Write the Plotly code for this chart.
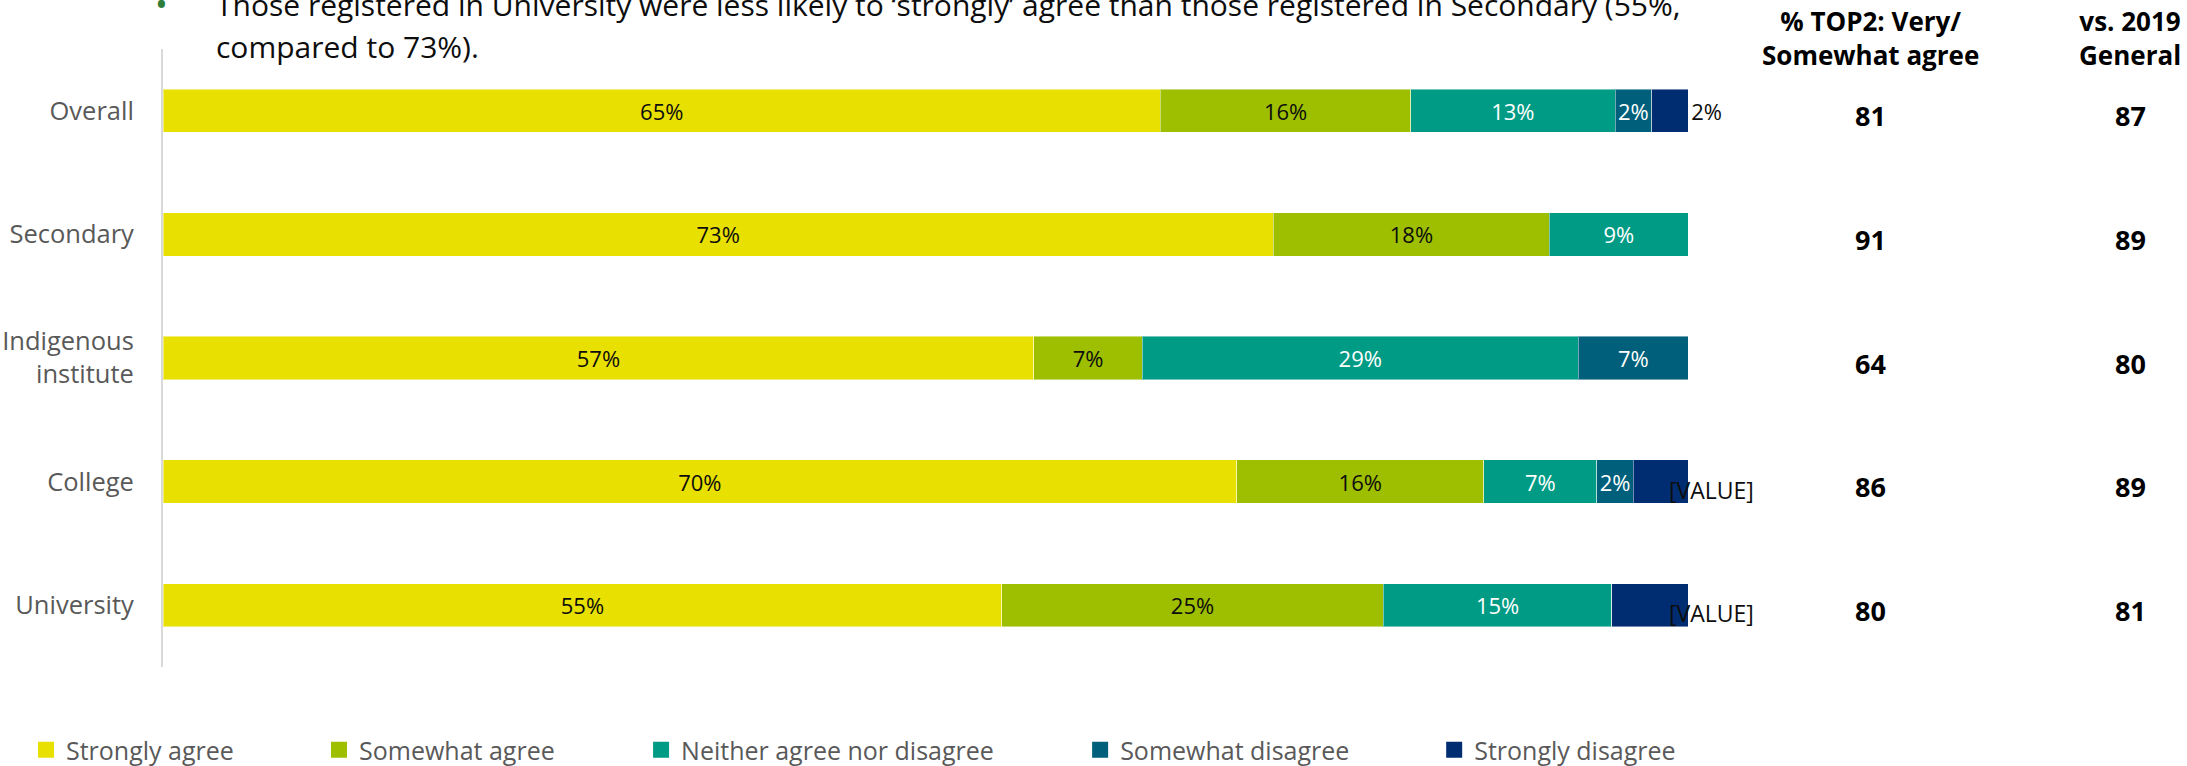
import plotly.graph_objects as go

# Survey groups (top to bottom) and response scale
categories = ["Overall", "Secondary", "Indigenous<br>institute", "College", "University"]
responses = ["Strongly agree", "Somewhat agree", "Neither agree nor disagree",
             "Somewhat disagree", "Strongly disagree"]
colors = ["#E8E000", "#9DBF00", "#009B84", "#005F7A", "#002D72"]
label_colors = ["#0d0d0d", "#0d0d0d", "#FFFFFF", "#FFFFFF", "#0d0d0d"]

# Share of respondents (%) per response, one list per response
strongly_agree = [65.4, 72.8, 57.1, 70.4, 55.0]
somewhat_agree = [16.4, 18.1, 7.1, 16.2, 25.0]
neither = [13.4, 9.1, 28.6, 7.4, 15.0]
somewhat_disagree = [2.4, 0.0, 7.2, 2.4, 0.0]
strongly_disagree = [2.4, 0.0, 0.0, 3.6, 5.0]
strongly_disagree_labels = ["2%", "", "", "[VALUE]", "[VALUE]"]

# Summary columns
top2 = [81, 91, 64, 86, 80]
general_2019 = [87, 89, 80, 89, 81]

series = [strongly_agree, somewhat_agree, neither, somewhat_disagree, strongly_disagree]

FONT = "Open Sans"
W, H = 2187, 766
X_MAX = 115                 # axis range leaves room for labels past 100%
PX_PER_UNIT = 15.25
ML, MT, MB = 163, 49, 99
PW = PX_PER_UNIT * X_MAX
MR = W - ML - PW
PH = H - MT - MB


def px_x(x):
    return (x - ML) / PW


def px_y(y):
    return (H - MB - y) / PH


fig = go.Figure()

for i, (name, vals, col) in enumerate(zip(responses, series, colors)):
    if i == len(series) - 1:
        text = [lab if lab != "[VALUE]" else "" for lab in strongly_disagree_labels]
        pos = "outside"
    else:
        text = [f"{v:.0f}%" if v > 0 else "" for v in vals]
        pos = "inside"
    fig.add_trace(go.Bar(
        y=categories, x=vals, orientation="h", name=name,
        marker=dict(color=col, line=dict(color="rgba(255,255,255,0.45)", width=1)),
        text=text, textposition=pos, insidetextanchor="middle",
        textangle=0, constraintext="none",
        textfont=dict(family=FONT, size=22, color=label_colors[i]),
        outsidetextfont=dict(family=FONT, size=22, color="#0d0d0d"),
        cliponaxis=False, showlegend=False, hoverinfo="skip",
    ))

# Legend entries, each in its own legend box so spacing follows the text
legend_left = [38, 331, 653, 1092, 1446]
legend_layouts = {}
for i, (name, col) in enumerate(zip(responses, colors)):
    key = "legend" if i == 0 else f"legend{i + 1}"
    fig.add_trace(go.Scatter(
        x=[None], y=[None], mode="markers", name=name,
        marker=dict(symbol="square", size=16, color=col),
        legend=key, showlegend=True, hoverinfo="skip",
    ))
    legend_layouts[key] = dict(
        x=px_x(legend_left[i] - 12), xanchor="left",
        y=px_y(750), yanchor="middle", orientation="h",
        font=dict(family=FONT, size=25, color="#595959"),
        bgcolor="rgba(0,0,0,0)", borderwidth=0,
    )

annotations = []

# Placeholder data labels on the last segment
totals = [sum(s[k] for s in series) for k in range(len(categories))]
for cat, lab, tot in zip(categories, strongly_disagree_labels, totals):
    if lab == "[VALUE]":
        annotations.append(dict(
            x=tot, y=cat, xref="x", yref="y", text=lab, showarrow=False,
            xanchor="left", xshift=-21, yshift=-8,
            font=dict(family=FONT, size=23, color="#0d0d0d"),
        ))

# Summary column headers and values
col_x = [1870, 2130]
headers = ["% TOP2: Very/<br>Somewhat agree", "vs. 2019<br>General"]
for cx, head, vals in zip(col_x, headers, [top2, general_2019]):
    annotations.append(dict(
        x=px_x(cx), y=px_y(38), xref="paper", yref="paper", text=head,
        showarrow=False, xanchor="center", yanchor="middle",
        font=dict(family=FONT, size=26, color="#000000", weight=700),
    ))
    for cat, v in zip(categories, vals):
        annotations.append(dict(
            x=px_x(cx), y=cat, xref="paper", yref="y", text=str(v),
            showarrow=False, xanchor="center", yanchor="middle", yshift=-5,
            font=dict(family=FONT, size=27, color="#000000", weight=700),
        ))

# Bullet commentary above the chart
annotations.append(dict(
    x=px_x(162), y=px_y(4), xref="paper", yref="paper", text="•",
    showarrow=False, xanchor="center", yanchor="middle",
    font=dict(family=FONT, size=34, color="#2E7D3A"),
))
annotations.append(dict(
    x=px_x(214), y=px_y(4), xref="paper", yref="paper",
    text="Those registered in University were less likely to ‘strongly’ agree than those registered in Secondary (55%,",
    showarrow=False, xanchor="left", yanchor="middle",
    font=dict(family=FONT, size=30, color="#0d0d0d"),
))
annotations.append(dict(
    x=px_x(214), y=px_y(46), xref="paper", yref="paper",
    text="compared to 73%).",
    showarrow=False, xanchor="left", yanchor="middle",
    font=dict(family=FONT, size=30, color="#0d0d0d"),
))

fig.update_layout(
    width=W, height=H,
    margin=dict(l=ML, r=MR, t=MT, b=MB, autoexpand=False),
    barmode="stack", bargap=0.65,
    plot_bgcolor="white", paper_bgcolor="white",
    font=dict(family=FONT, color="#595959"),
    showlegend=True,
    annotations=annotations,
    xaxis=dict(range=[0, X_MAX], visible=False, fixedrange=True),
    yaxis=dict(
        type="category", categoryorder="array", categoryarray=categories,
        autorange="reversed", showline=True, linecolor="#D9D9D9", linewidth=2,
        showgrid=False, zeroline=False, ticks="", ticklabelstandoff=22,
        tickfont=dict(family=FONT, size=25.5, color="#595959"), fixedrange=True,
    ),
    **legend_layouts,
)

fig.write_html("out.html")
